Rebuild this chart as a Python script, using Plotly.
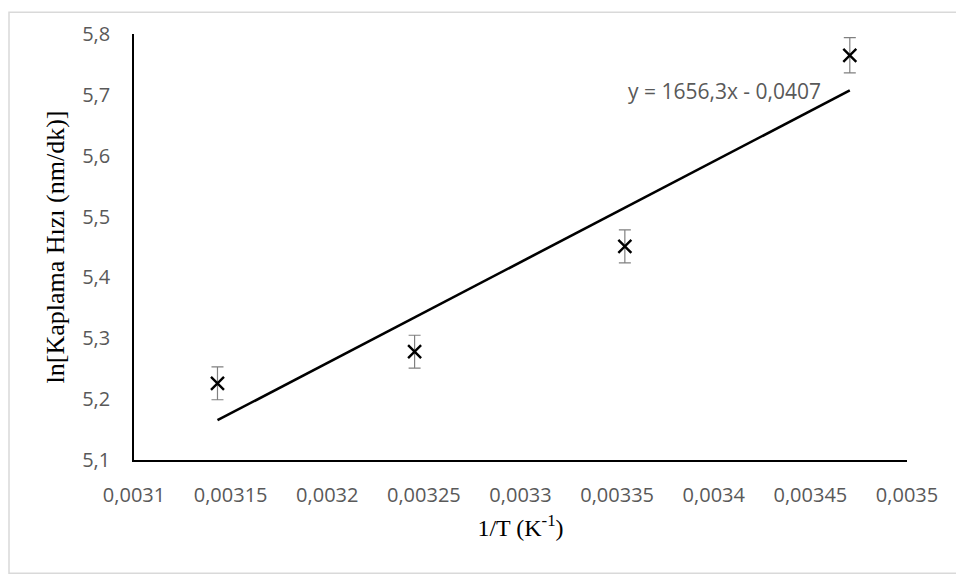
import plotly.graph_objects as go

inv_T = [0.0031432, 0.0032452, 0.003354, 0.0034704]
ln_rate = [5.226, 5.278, 5.451, 5.765]
err = [0.027, 0.027, 0.027, 0.029]
slope = 1656.3
intercept = -0.0407
x_ticks = [0.0031, 0.00315, 0.0032, 0.00325, 0.0033, 0.00335, 0.0034, 0.00345, 0.0035]
x_tick_labels = ["0,0031", "0,00315", "0,0032", "0,00325", "0,0033", "0,00335", "0,0034", "0,00345", "0,0035"]
y_ticks = [5.1, 5.2, 5.3, 5.4, 5.5, 5.6, 5.7, 5.8]
y_tick_labels = ["5,1", "5,2", "5,3", "5,4", "5,5", "5,6", "5,7", "5,8"]

trend_x = [min(inv_T), max(inv_T)]
trend_y = [slope * v + intercept for v in trend_x]

TICK_FONT = dict(family="Open Sans, Noto Sans, sans-serif", size=20, color="#595959")

fig = go.Figure()
fig.add_trace(go.Scatter(
    x=trend_x, y=trend_y, mode="lines",
    line=dict(color="black", width=2.6), showlegend=False, hoverinfo="skip"))
fig.add_trace(go.Scatter(
    x=inv_T, y=ln_rate, mode="markers",
    marker=dict(symbol="x-thin-open", size=13, color="black",
                line=dict(color="black", width=2.4)),
    error_y=dict(type="data", array=err, visible=True, color="#808080",
                 thickness=1.2, width=6),
    showlegend=False))

fig.add_annotation(
    x=0.0034565, y=5.706, xref="x", yref="y", xanchor="right", yanchor="middle",
    text="y = 1656,3x - 0,0407", showarrow=False,
    font=dict(family="Open Sans, Noto Sans, sans-serif", size=21, color="#595959"))

# outer chart border
fig.add_shape(type="rect", xref="paper", yref="paper",
              x0=(1 - 126) / 773, x1=(953 - 126) / 773,
              y0=-114 / 429, y1=1 + 22 / 429,
              line=dict(color="#d9d9d9", width=1.5))

fig.update_layout(
    width=956, height=568,
    margin=dict(l=126, r=57, t=23, b=116),
    paper_bgcolor="white", plot_bgcolor="white",
    xaxis=dict(range=[0.0031, 0.0035], tickvals=x_ticks, ticktext=x_tick_labels,
               showgrid=False, zeroline=False, showline=True, linecolor="black",
               linewidth=1.6, ticks="outside", ticklen=16, tickcolor="rgba(0,0,0,0)",
               tickfont=TICK_FONT,
               title=dict(text="1/T (K<sup>-1</sup>)", standoff=12,
                          font=dict(family="Liberation Serif, Times New Roman, serif", size=24, color="black"))),
    yaxis=dict(range=[5.1, 5.8], tickvals=y_ticks, ticktext=y_tick_labels,
               showgrid=False, zeroline=False, showline=True, linecolor="black",
               linewidth=1.6, ticks="outside", ticklen=18, tickcolor="rgba(0,0,0,0)",
               tickfont=TICK_FONT,
               title=dict(text="ln[Kaplama Hızı (nm/dk)]", standoff=10,
                          font=dict(family="Liberation Serif, Times New Roman, serif", size=26, color="black"))),
)

fig.write_html("out.html")
